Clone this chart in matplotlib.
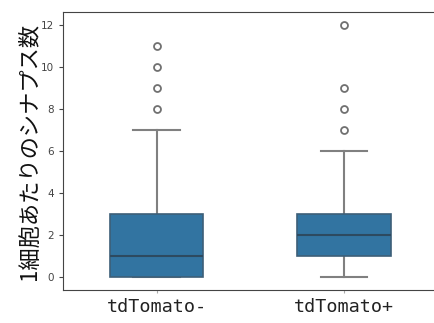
import matplotlib
matplotlib.use("Agg")
import matplotlib.pyplot as plt

groups = ["tdTomato-", "tdTomato+"]
q1 = [0, 1]
medians = [1, 2]
q3 = [3, 3]
whisker_low = [0, 0]
whisker_high = [7, 6]
outliers = [[8, 9, 10, 11], [7, 8, 9, 12]]

BOX_COLOR = "#3274a1"
LINE_COLOR = "#808080"

stats = []
for i, name in enumerate(groups):
    stats.append({
        "label": name,
        "q1": q1[i],
        "med": medians[i],
        "q3": q3[i],
        "whislo": whisker_low[i],
        "whishi": whisker_high[i],
        "fliers": outliers[i],
    })

fig = plt.figure(figsize=(4.35, 3.23), dpi=100)
# axes runs past the right edge, like the cropped original
ax = fig.add_axes([0.145, 0.102, 1.076, 0.861])

ax.bxp(stats, positions=[0, 1], widths=0.5, patch_artist=True,
       boxprops=dict(facecolor=BOX_COLOR, edgecolor="#3d5f78", linewidth=1.2, zorder=3),
       medianprops=dict(color="#2d4a60", linewidth=1.5, zorder=4),
       whiskerprops=dict(color=LINE_COLOR, linewidth=1.5, zorder=2),
       capprops=dict(color=LINE_COLOR, linewidth=1.5, zorder=2),
       flierprops=dict(marker="o", markersize=5, markerfacecolor="none",
                       markeredgecolor="#707070", markeredgewidth=1.3))

ax.set_xlim(-0.5, 2.0)
ax.set_ylim(-0.6, 12.6)
ax.set_yticks([0, 2, 4, 6, 8, 10, 12])
ax.tick_params(axis="y", labelsize=7.5, labelcolor="#444444", color="#444444", length=3)
ax.tick_params(axis="x", length=2, color="#aaaaaa")
ax.set_xticks([0, 1])
ax.set_xticklabels(groups, fontsize=13.3, family="DejaVu Sans Mono", color="#222222")
ax.set_ylabel("1細胞あたりのシナプス数", fontsize=16,
              family=["Noto Sans CJK JP", "DejaVu Sans"], color="#111111")
ax.yaxis.set_label_coords(-0.047, 0.5)
ax.spines["right"].set_visible(False)
for s in ["left", "bottom", "top"]:
    ax.spines[s].set_color("#444444")

fig.savefig("out.png", dpi=100)
